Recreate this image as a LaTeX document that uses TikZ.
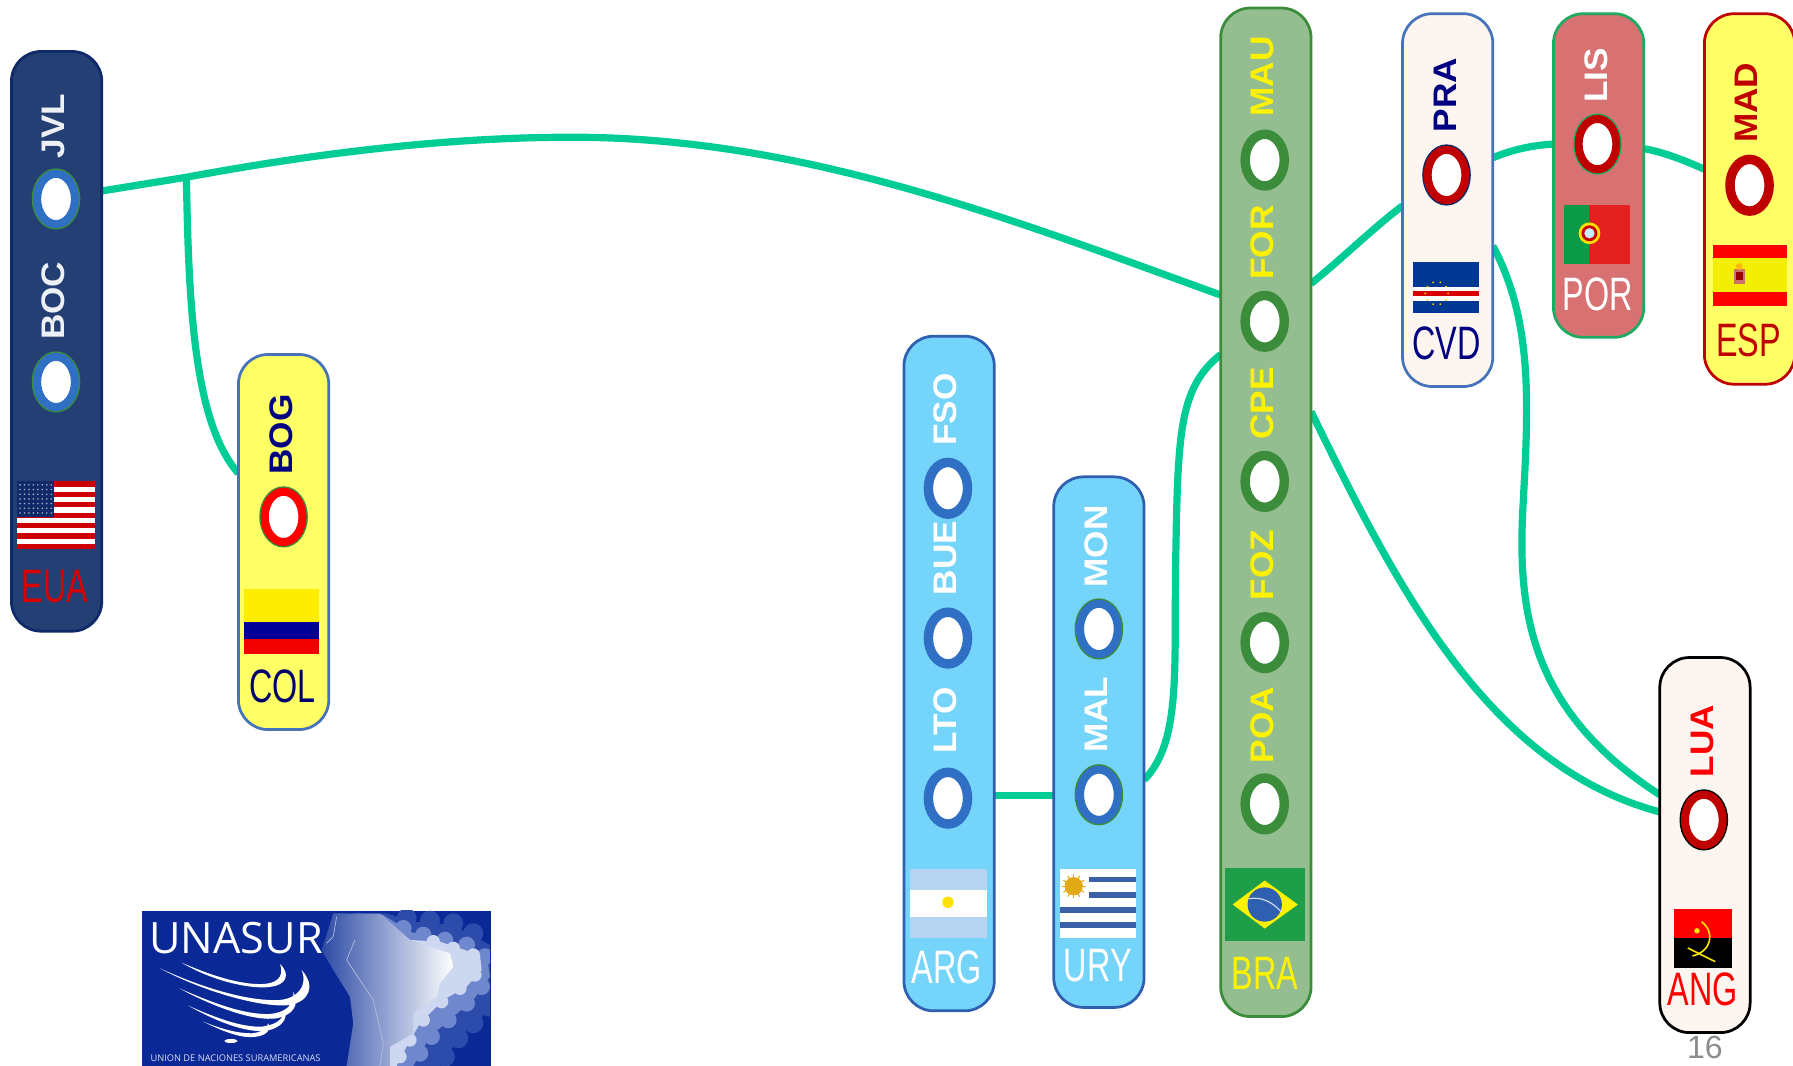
\documentclass[tikz,border=0pt]{standalone}
\usepackage{fontspec}
\setmainfont{Liberation Sans}
\newfontfamily\condfont[FakeStretch=0.69]{Liberation Sans}
\newfontfamily\cityfont[FakeStretch=1.08,BoldFont={Liberation Sans Bold}]{Liberation Sans}
\newfontfamily\logofont{Open Sans}
\usetikzlibrary{shapes.geometric,backgrounds}
\definecolor{linkgreen}{RGB}{0,204,150}
\definecolor{navyfill}{RGB}{36,63,115}
\definecolor{navyedge}{RGB}{16,42,105}
\definecolor{skyfill}{RGB}{117,212,249}
\definecolor{skyedge}{RGB}{47,95,176}
\definecolor{brafill}{RGB}{148,190,143}
\definecolor{braedge}{RGB}{59,140,59}
\definecolor{creamfill}{RGB}{253,245,240}
\definecolor{steeledge}{RGB}{70,115,185}
\definecolor{rosefill}{RGB}{216,114,114}
\definecolor{porredge}{RGB}{30,170,96}
\definecolor{paleyellow}{RGB}{255,255,102}
\definecolor{darkred}{RGB}{192,0,0}
\definecolor{ringblue}{RGB}{47,111,196}
\definecolor{labelnavy}{RGB}{0,0,128}
\definecolor{logoblue}{RGB}{10,40,150}
\definecolor{bandc}{RGB}{45,75,170}
\definecolor{bandb}{RGB}{110,135,205}
\definecolor{banda}{RGB}{205,215,240}
\definecolor{landdark}{RGB}{45,75,165}
\definecolor{landmid}{RGB}{125,148,212}
\definecolor{argblue}{RGB}{180,212,240}
\definecolor{bragreen}{RGB}{30,158,72}
\definecolor{cvdblue}{RGB}{0,56,147}
\definecolor{porgreen}{RGB}{10,154,72}
\definecolor{porred}{RGB}{228,32,32}
\definecolor{urygold}{RGB}{225,170,20}
\definecolor{urystripe}{RGB}{60,95,170}
\tikzset{
  pill/.style={rectangle,rounded corners=26pt,line width=2.4pt,minimum width=79pt,inner sep=0pt,outer sep=0pt},
  ring/.style={ellipse,minimum width=33pt,minimum height=44pt,inner sep=0pt,fill=white,line width=7pt},
  city/.style={rotate=90,font=\cityfont\fontsize{28.5}{28.5}\selectfont\bfseries,inner sep=0pt},
  country/.style={font=\condfont\fontsize{41}{41}\selectfont,inner sep=0pt},
  link/.style={draw=linkgreen,line width=6.3pt}
}
\newcommand{\ringat}[4]{\node[ring,draw=#3,preaction={draw=#4,line width=9.5pt}] (#1) at (#2) {};}
\begin{document}
\begin{tikzpicture}[x=1pt,y=-1pt]
\useasboundingbox (0,0) rectangle (1568,932);
% pills
\node[pill,fill=navyfill,draw=navyedge,minimum height=507pt] (eua) at (49.5,298.5) {};
\node[pill,fill=paleyellow,draw=steeledge,minimum height=328pt] (col) at (248,474) {};
\node[pill,fill=skyfill,draw=skyedge,minimum height=590pt] (arg) at (830,589) {};
\node[pill,fill=skyfill,draw=skyedge,minimum height=464pt] (ury) at (961,649) {};
\node[pill,fill=brafill,draw=braedge,minimum height=882pt] (bra) at (1107,448) {};
\node[pill,fill=creamfill,draw=steeledge,minimum height=326pt] (cvd) at (1266,175) {};
\node[pill,fill=rosefill,draw=porredge,minimum height=283pt] (por) at (1398,153.5) {};
\node[pill,fill=paleyellow,draw=darkred,minimum height=324pt] (esp) at (1530,174) {};
\node[pill,fill=creamfill,draw=black,minimum height=328pt] (ang) at (1491,739) {};
% connectors
\coordinate (jct) at (163,155);
\coordinate (crest) at (500,120);
\begin{scope}[on background layer]
\draw[link] (eua.east |- 0,167) -- (jct) .. controls (260,137) and (380,120) .. (crest) .. controls (700,120) and (880,190) .. (bra.west |- 0,258);
\draw[link] (jct) .. controls (165,270) and (170,370) .. (col.west |- 0,414);
\draw[link] (arg.east |- 0,696) -- (ury.west |- 0,696);
\draw[link] (ury.east |- 0,682) .. controls (1032,650) and (1027,590) .. (1028,500) .. controls (1030,380) and (1030,340) .. (bra.west |- 0,310);
\draw[link] (bra.east |- 0,248) .. controls (1175,225) and (1200,200) .. (cvd.west |- 0,180);
\draw[link] (cvd.east |- 0,138) .. controls (1322,131) and (1340,127) .. (por.west |- 0,126);
\draw[link] (por.east |- 0,130) .. controls (1455,133) and (1475,141) .. (esp.west |- 0,148);
\draw[link] (cvd.east |- 0,215) .. controls (1340,280) and (1337,350) .. (1332,440) .. controls (1327,530) and (1335,620) .. (ang.west |- 0,695);
\draw[link] (bra.east |- 0,360) .. controls (1220,510) and (1300,670) .. (ang.west |- 0,710);
\end{scope}
% rings
\ringat{r1}{49,174}{ringblue}{braedge}
\ringat{r2}{49,334}{ringblue}{braedge}
\ringat{r3}{248,452}{red}{braedge}
\ringat{r4}{829,427}{ringblue}{ringblue}
\ringat{r5}{829,558}{ringblue}{ringblue}
\ringat{r6}{829,698}{ringblue}{ringblue}
\ringat{r7}{961,550}{ringblue}{braedge}
\ringat{r8}{961,695}{ringblue}{braedge}
\ringat{r9}{1106,140}{braedge}{braedge}
\ringat{r10}{1106,281}{braedge}{braedge}
\ringat{r11}{1106,421}{braedge}{braedge}
\ringat{r12}{1106,562}{braedge}{braedge}
\ringat{r13}{1106,703}{braedge}{braedge}
\ringat{r14}{1265,153}{darkred}{navyedge}
\ringat{r15}{1397,126}{darkred}{porredge}
\ringat{r16}{1530,162}{darkred}{darkred}
\ringat{r17}{1490,717}{darkred}{black}
% city labels
\node[city,white!92!navyfill] (jvl) at (47,110) {JVL};
\node[city,white!92!navyfill] (boc) at (47,263) {BOC};
\node[city,labelnavy] (bog) at (246,380) {BOG};
\node[city,white] (fso) at (827,358) {FSO};
\node[city,white] (bue) at (827,488) {BUE};
\node[city,white] (lto) at (827,630) {LTO};
\node[city,white] (mon) at (959,478) {MON};
\node[city,white] (mal) at (959,625) {MAL};
\node[city,yellow] (mau) at (1104,67) {MAU};
\node[city,yellow] (for) at (1104,212) {FOR};
\node[city,yellow] (cpe) at (1104,353) {CPE};
\node[city,yellow] (foz) at (1104,494) {FOZ};
\node[city,yellow] (poa) at (1104,634) {POA};
\node[city,labelnavy] (pra) at (1264,83) {PRA};
\node[city,white] (lis) at (1396,66) {LIS};
\node[city,darkred] (mad) at (1527,90) {MAD};
\node[city,red] (lua) at (1489,648) {LUA};
% country labels
\node[country,red!85!black] (teua) at (48,513) {EUA};
\node[country,labelnavy!85!black] (tcol) at (247,600) {COL};
\node[country,white] (targ) at (828,846) {ARG};
\node[country,white] (tury) at (960,844) {URY};
\node[country,yellow] (tbra) at (1106,851) {BRA};
\node[country,labelnavy] (tcvd) at (1265,300) {CVD};
\node[country,white] (tpor) at (1397,257) {POR};
\node[country,darkred] (tesp) at (1529,298) {ESP};
\node[country,red] (tang) at (1489,865) {ANG};
\node[font=\fontsize{28}{28}\selectfont,text=black!45,inner sep=0pt] (page) at (1491,916) {16};
% flag USA
\fill[white] (15,421) rectangle (83,480);
\foreach \i in {0,...,6}{\fill[red!80!black] (15,421+\i*9.08) rectangle (83,421+\i*9.08+4.54);}
\fill[navyedge] (15,421) rectangle (47,452);
\foreach \i in {0,...,7}{\foreach \j in {0,...,6}{\fill[white!60!navyedge] (17.5+\i*3.9,424+\j*4.1) circle (0.8);}}
% flag Colombia
\fill[yellow!95!orange] (213,515) rectangle (279,544);
\fill[blue!60!black] (213,544) rectangle (279,559);
\fill[red!95!black] (213,559) rectangle (279,572);
% flag Argentina
\fill[argblue] (796,760) rectangle (863,820);
\fill[white] (796,778) rectangle (863,802);
\fill[yellow!85!orange] (829,789) circle (5);
% flag Uruguay
\fill[white] (927,760) rectangle (993,820);
\foreach \yy in {766.7,780}{\fill[urystripe] (952,\yy) rectangle (993,\yy+5);}
\foreach \yy in {793.5,806.7}{\fill[urystripe] (927,\yy) rectangle (993,\yy+5);}
\fill[urygold] (939,775) circle (8);
\foreach \a in {0,30,...,330}{\draw[urygold,line width=0.9pt] (939,775) -- ++(\a:10.5);}
% flag Brazil
\fill[bragreen] (1071,759) rectangle (1141,823);
\fill[yellow] (1078,791) -- (1106,770) -- (1135,791) -- (1106,812) -- cycle;
\fill[skyedge] (1106,791) circle (15);
\draw[white!80!skyedge,line width=1pt] (1092,786) .. controls (1102,784) and (1112,788) .. (1120,797);
% flag Cape Verde
\fill[cvdblue] (1236,229) rectangle (1293,274);
\fill[white] (1236,251) rectangle (1293,263);
\fill[red!85!black] (1236,254.5) rectangle (1293,259);
\foreach \a in {0,36,...,324}{\fill[yellow!70!orange] (1256.4,256.5) ++(\a:10) circle (0.9);}
% flag Portugal
\fill[porred] (1368,179) rectangle (1425,231);
\fill[porgreen] (1368,179) rectangle (1390,231);
\fill[yellow!85!orange] (1390,204) circle (9.5);
\fill[red!80!black] (1390,204) circle (7);
\fill[white!60!skyfill] (1390,204) circle (4.5);
% flag Spain
\fill[yellow!95!green] (1498,214) rectangle (1563,268);
\fill[red] (1498,214) rectangle (1563,226);
\fill[red] (1498,255) rectangle (1563,268);
\fill[white!55!red!80!black] (1516,235) rectangle (1526,248);
\fill[red!60!black] (1518,238) rectangle (1524,245);
\fill[yellow!50!orange] (1521,233) circle (3);
% flag Angola
\fill[red] (1464,795) rectangle (1514.6,820.5);
\fill[black] (1464,820.5) rectangle (1514.6,846.5);
\draw[yellow!90!orange,line width=1.4pt] (1488,806) .. controls (1500,815) and (1497,832) .. (1480,836);
\draw[yellow!90!orange,line width=1.4pt] (1476,829) -- (1500,841);
\fill[yellow!90!orange] (1484,814) circle (2.4);
% UNASUR logo
\node[rectangle,fill=logoblue,minimum width=304.5pt,minimum height=136pt,inner sep=0pt,outer sep=0pt] (logo) at (276.7,864.3) {};
\begin{scope}[shift={(104.9,778.3)},x=0.2915pt,y=-0.2915pt]
\clip (68,62) rectangle (1110,528);
\fill[bandc] (800,70) -- (880,95) -- (1000,105) -- (1110,165) -- (1110,360) -- (1020,440) -- (960,528) -- (700,528) -- (700,70) -- cycle;
\foreach \p in {(860,85),(930,92),(1000,100),(1060,130),(1110,350),(1060,400),(1015,445),(975,500)}{\fill[bandc] \p circle (30);}
\fill[bandb] (790,75) -- (870,125) -- (950,150) -- (1030,165) -- (1100,190) -- (1110,260) -- (1060,330) -- (1000,380) -- (930,440) -- (880,528) -- (700,528) -- (700,75) -- cycle;
\foreach \p in {(850,115),(910,135),(975,150),(1040,165),(1095,200),(1085,290),(1040,340),(985,390),(935,440),(900,490)}{\fill[bandb] \p circle (25);}
\fill[banda] (780,72) -- (870,150) -- (960,155) -- (1080,195) -- (1085,240) -- (1040,290) -- (970,330) -- (900,400) -- (860,470) -- (830,528) -- (700,528) -- (700,72) -- cycle;
\foreach \p in {(940,155),(1000,175),(1060,195),(1065,255),(1020,295),(965,335),(910,390),(870,450),(840,500)}{\fill[banda] \p circle (20);}
\shade[left color=landdark,middle color=landmid,right color=white] (640,70) -- (780,72) -- (870,150) -- (990,190) -- (1000,230) -- (960,280) -- (950,320) -- (880,370) -- (880,430) -- (810,470) -- (810,528) -- (680,528) -- (700,400) -- (690,320) -- (640,240) -- (605,180) -- (615,150) -- cycle;
\draw[white!70!logoblue,line width=0.6pt] (705,150) -- (680,210) -- (760,330) -- (790,460) -- (780,528);
\draw[white!70!logoblue,line width=0.6pt] (650,80) -- (640,140) -- (620,160);
% swooshes
\fill[white] (185,218) .. controls (280,275) and (400,300) .. (455,290) .. controls (495,285) and (515,255) .. (480,222) .. controls (495,265) and (465,280) .. (430,282) .. controls (360,285) and (270,255) .. cycle;
\fill[white] (120,235) .. controls (240,300) and (420,355) .. (510,345) .. controls (565,335) and (590,290) .. (545,240) .. controls (565,290) and (530,325) .. (480,330) .. controls (380,335) and (240,290) .. cycle;
\fill[white] (178,295) .. controls (280,350) and (400,395) .. (470,385) .. controls (520,375) and (540,345) .. (520,305) .. controls (525,345) and (495,368) .. (450,372) .. controls (370,375) and (270,335) .. cycle;
\fill[white] (205,347) .. controls (290,395) and (380,430) .. (440,422) .. controls (480,415) and (505,390) .. (495,360) .. controls (490,390) and (465,405) .. (425,410) .. controls (360,412) and (280,380) .. cycle;
\fill[white] (250,395) .. controls (310,425) and (370,448) .. (410,440) .. controls (440,435) and (455,420) .. (445,400) .. controls (440,418) and (420,428) .. (395,430) .. controls (350,430) and (300,415) .. cycle;
\fill[white] (333,453) ellipse (20 and 6);
\end{scope}
\node[font=\logofont\fontsize{37.8}{37.8}\selectfont,text=white,inner sep=0pt] (unasur) at (206.5,820) {UNASUR};
\node[font=\logofont\fontsize{8.1}{8.5}\selectfont,text=white!85!logoblue,inner sep=0pt] (uniontxt) at (206,925.5) {UNION DE NACIONES SURAMERICANAS};
\end{tikzpicture}
\end{document}
